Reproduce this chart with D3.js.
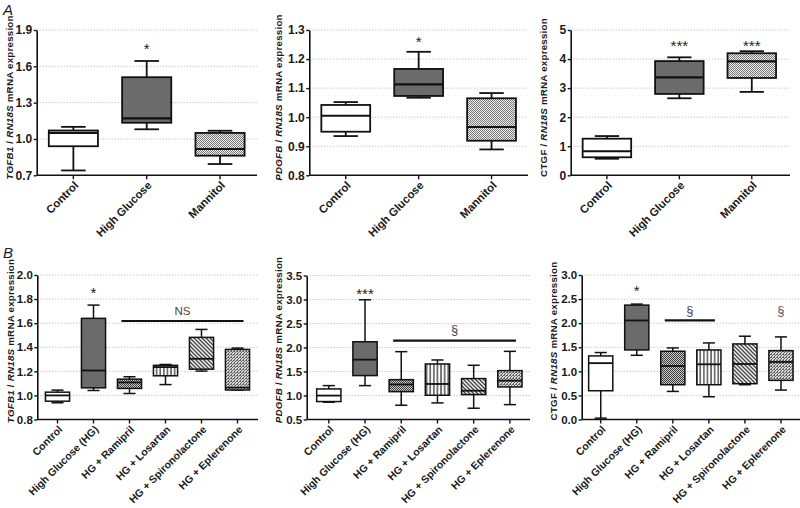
<!DOCTYPE html>
<html><head><meta charset="utf-8">
<script src="https://cdn.jsdelivr.net/npm/d3@7"></script>
<style>
body{margin:0;background:#fff}
text{font-family:Arial,"Liberation Sans",sans-serif}
</style>
</head><body>
<svg id="c" width="800" height="508"></svg>
<script>
// ---------- DATA ----------
const catsA = ["Control", "High Glucose", "Mannitol"];
const catsB = ["Control", "High Glucose (HG)", "HG + Ramipril", "HG + Losartan", "HG + Spironolactone", "HG + Eplerenone"];

// each entry: [min, q1, median, q3, max]
const tgfb1A = [[0.74, 0.94, 1.05, 1.07, 1.10], [1.08, 1.134, 1.17, 1.51, 1.644], [0.793, 0.862, 0.917, 1.05, 1.068]];
const pdgfbA = [[0.935, 0.95, 1.005, 1.042, 1.052], [1.067, 1.073, 1.113, 1.166, 1.225], [0.889, 0.919, 0.966, 1.065, 1.083]];
const ctgfA  = [[0.57, 0.62, 0.83, 1.26, 1.35], [2.65, 2.80, 3.37, 3.93, 4.06], [2.87, 3.35, 3.92, 4.20, 4.27]];

const tgfb1B = [[0.939, 0.952, 1.0, 1.027, 1.044], [1.041, 1.063, 1.207, 1.64, 1.75], [1.016, 1.058, 1.108, 1.135, 1.155],
                [1.09, 1.163, 1.235, 1.25, 1.257], [1.202, 1.218, 1.304, 1.482, 1.548], [1.045, 1.045, 1.065, 1.382, 1.393]];
const pdgfbB = [[0.86, 0.874, 0.998, 1.137, 1.206], [1.206, 1.415, 1.747, 2.12, 2.994], [0.797, 1.08, 1.23, 1.33, 1.913],
                [0.846, 1.005, 1.24, 1.657, 1.74], [0.735, 1.019, 1.10, 1.352, 1.63], [0.81, 1.178, 1.31, 1.518, 1.92]];
const ctgfB  = [[0.028, 0.597, 1.17, 1.32, 1.39], [1.333, 1.444, 2.056, 2.375, 2.396], [0.583, 0.722, 1.111, 1.417, 1.486],
                [0.472, 0.722, 1.146, 1.444, 1.59], [0.722, 0.743, 1.153, 1.569, 1.729], [0.611, 0.8125, 1.194, 1.43, 1.715]];

const ticksTgfb1A = [0.7, 1.0, 1.3, 1.6, 1.9];
const ticksPdgfbA = [0.8, 0.9, 1.0, 1.1, 1.2, 1.3];
const ticksCtgfA  = [0, 1, 2, 3, 4, 5];
const ticksTgfb1B = [0.8, 1.0, 1.2, 1.4, 1.6, 1.8, 2.0];
const ticksPdgfbB = [0.5, 1.0, 1.5, 2.0, 2.5, 3.0, 3.5];
const ticksCtgfB  = [0.0, 0.5, 1.0, 1.5, 2.0, 2.5, 3.0];

// significance marks: category, text, value
const marksTgfb1A = [["High Glucose", "*", 1.79]];
const marksPdgfbA = [["High Glucose", "*", 1.277]];
const marksCtgfA  = [["High Glucose", "***", 4.63], ["Mannitol", "***", 4.63]];
const marksTgfb1B = [["High Glucose (HG)", "*", 1.895]];
const marksPdgfbB = [["High Glucose (HG)", "***", 3.22]];
const marksCtgfB  = [["High Glucose (HG)", "*", 2.78], ["HG + Eplerenone", "§", 2.27]];
// comparison bars: from category, to category, bar value, label, label value
const barsTgfb1B = [["HG + Ramipril", "HG + Eplerenone", 1.618, "NS", 1.70]];
const barsPdgfbB = [["HG + Ramipril", "HG + Eplerenone", 2.142, "§", 2.37]];
const barsCtgfB  = [["HG + Ramipril", "HG + Losartan", 2.056, "§", 2.27]];

// ---------- DRAW ----------
const svg = d3.select("#c");
const defs = svg.append("defs");

function pat(id, w, h, bg, draw) {
  const p = defs.append("pattern").attr("id", id).attr("patternUnits", "userSpaceOnUse").attr("width", w).attr("height", h);
  p.append("rect").attr("width", w).attr("height", h).attr("fill", bg);
  draw(p);
}
function checker(p, c) {
  p.append("rect").attr("width", 1).attr("height", 1).attr("fill", c);
  p.append("rect").attr("x", 1).attr("y", 1).attr("width", 1).attr("height", 1).attr("fill", c);
}
pat("pMann", 2, 2, "#ececec", p => checker(p, "#7a7a7a"));
pat("pRam", 2, 2, "#c8c8c8", p => checker(p, "#3e3e3e"));
pat("pLos", 3.6, 4, "#ffffff", p => { p.append("rect").attr("x", 1.2).attr("width", 1.3).attr("height", 4).attr("fill", "#3a3a3a"); });
pat("pSpi", 4, 4, "#f0f0f0", p => { p.append("path").attr("d", "M-1,-1L5,5M-1,3L1,5M3,-1L5,1").attr("stroke", "#444").attr("stroke-width", 1.3); });
pat("pEpl", 3, 3, "#d6d6d6", p => {
  p.append("path").attr("d", "M0,3L3,0M-1,1L1,-1M2,4L4,2").attr("stroke", "#555").attr("stroke-width", 0.9);
  p.append("rect").attr("x", 0).attr("y", 0).attr("width", 1).attr("height", 1).attr("fill", "#666");
});

const fillsA = ["#ffffff", "#6b6b6b", "url(#pMann)"];
const fillsB = ["#ffffff", "#6b6b6b", "url(#pRam)", "url(#pLos)", "url(#pSpi)", "url(#pEpl)"];

function titleText(sel, gene, geneItalic) {
  sel.append("tspan").attr("font-style", geneItalic ? "italic" : "normal").text(gene);
  sel.append("tspan").text(" / ");
  sel.append("tspan").attr("font-style", "italic").text("RN18S");
  sel.append("tspan").text(" mRNA expression");
}

function panel(cfg) {
  const y = d3.scaleLinear().domain([cfg.ticks[0], cfg.ticks[cfg.ticks.length - 1]]).range([cfg.yBot, cfg.yTop]);
  const x = d3.scaleBand().domain(cfg.cats).range([cfg.x0, cfg.x1]);
  const g = svg.append("g");
  const cx = c => x(c) + x.bandwidth() / 2;
  const bw = x.bandwidth() * 0.67;

  g.selectAll(".grid").data(cfg.ticks.slice(1)).join("line")
    .attr("x1", cfg.axisX).attr("x2", cfg.axisEnd)
    .attr("y1", d => y(d)).attr("y2", d => y(d))
    .attr("stroke", "#b0b0b0").attr("stroke-width", 1).attr("stroke-dasharray", "1,2");

  const rows = cfg.cats.map((c, i) => ({ c, v: cfg.data[i], f: cfg.fills[i] }));
  const bg = g.selectAll(".box").data(rows).join("g");
  bg.append("line").attr("x1", d => cx(d.c)).attr("x2", d => cx(d.c))
    .attr("y1", d => y(d.v[0])).attr("y2", d => y(d.v[4])).attr("stroke", "#111").attr("stroke-width", cfg.sw);
  bg.append("line").attr("x1", d => cx(d.c) - bw / 4).attr("x2", d => cx(d.c) + bw / 4)
    .attr("y1", d => y(d.v[4])).attr("y2", d => y(d.v[4])).attr("stroke", "#111").attr("stroke-width", cfg.sw);
  bg.append("line").attr("x1", d => cx(d.c) - bw / 4).attr("x2", d => cx(d.c) + bw / 4)
    .attr("y1", d => y(d.v[0])).attr("y2", d => y(d.v[0])).attr("stroke", "#111").attr("stroke-width", cfg.sw);
  bg.append("rect").attr("x", d => cx(d.c) - bw / 2).attr("width", bw)
    .attr("y", d => y(d.v[3])).attr("height", d => y(d.v[1]) - y(d.v[3]))
    .attr("fill", d => d.f).attr("stroke", "#111").attr("stroke-width", cfg.sw);
  bg.append("line").attr("x1", d => cx(d.c) - bw / 2).attr("x2", d => cx(d.c) + bw / 2)
    .attr("y1", d => y(d.v[2])).attr("y2", d => y(d.v[2])).attr("stroke", "#111").attr("stroke-width", cfg.sw + 0.3);

  const ya = g.append("g").attr("transform", `translate(${cfg.axisX},0)`)
    .call(d3.axisLeft(y).tickValues(cfg.ticks).tickFormat(cfg.fmt).tickSize(3).tickSizeOuter(0).tickPadding(1.5));
  ya.select(".domain").attr("stroke", "#111").attr("stroke-width", 1.6);
  ya.selectAll(".tick line").attr("stroke", "#111").attr("stroke-width", 1.4);
  ya.selectAll(".tick text").attr("font-size", cfg.tickFs).attr("font-weight", "bold").attr("fill", "#1a1a1a");

  const xa = g.append("g").attr("transform", `translate(0,${cfg.yBot})`)
    .call(d3.axisBottom(x).tickSize(4).tickSizeOuter(0).tickPadding(5));
  xa.select(".domain").remove();
  xa.selectAll(".tick line").attr("stroke", "#111").attr("stroke-width", 1.4);
  xa.selectAll(".tick text").attr("font-size", cfg.labFs).attr("font-weight", "bold").attr("fill", "#1a1a1a")
    .attr("text-anchor", "end").attr("dy", "0.35em")
    .attr("transform", "translate(3,8) rotate(-45)").attr("x", 0).attr("y", 0);
  g.append("line").attr("x1", cfg.axisX).attr("x2", cfg.axisEnd).attr("y1", cfg.yBot).attr("y2", cfg.yBot)
    .attr("stroke", "#111").attr("stroke-width", 1.6);

  const t = g.append("text").attr("transform", `translate(${cfg.titleX},${cfg.titleY}) rotate(-90)`)
    .attr("text-anchor", "middle").attr("font-size", 9.8).attr("font-weight", "bold").attr("fill", "#1a1a1a")
    .attr("letter-spacing", 0.2);
  titleText(t, cfg.gene, cfg.geneItalic);

  g.selectAll(".mk").data(cfg.marks).join("text")
    .attr("x", d => cx(d[0])).attr("y", d => y(d[2]))
    .attr("dy", d => d[1] === "§" ? "0.35em" : "0.7em")
    .attr("text-anchor", "middle").attr("font-size", d => d[1] === "§" ? 13 : 15)
    .attr("fill", d => d[1] === "§" ? "#555" : "#222")
    .text(d => d[1]);

  (cfg.bars || []).forEach(b => {
    const xa1 = cx(b[0]) - bw / 3, xa2 = cx(b[1]) + bw / 4;
    g.append("line").attr("x1", xa1).attr("x2", xa2).attr("y1", y(b[2])).attr("y2", y(b[2]))
      .attr("stroke", "#111").attr("stroke-width", 2.2);
    g.append("text").attr("x", (xa1 + xa2) / 2).attr("y", y(b[4])).attr("dy", "0.35em")
      .attr("text-anchor", "middle").attr("font-size", b[3] === "NS" ? 11.5 : 13).attr("fill", "#444").text(b[3]);
  });
}

const f1 = d3.format(".1f"), f0 = d3.format("d");

panel({ cats: catsA, data: tgfb1A, ticks: ticksTgfb1A, fmt: f1, fills: fillsA, marks: marksTgfb1A,
  x0: 36.7, x1: 256.7, axisX: 36.7, axisEnd: 257, yTop: 30, yBot: 175.3, sw: 1.8, tickFs: 12, labFs: 11.3,
  gene: "TGFB1", geneItalic: true, titleX: 13, titleY: 97.5 });
panel({ cats: catsA, data: pdgfbA, ticks: ticksPdgfbA, fmt: f1, fills: fillsA, marks: marksPdgfbA,
  x0: 309.3, x1: 528, axisX: 309.3, axisEnd: 528, yTop: 30, yBot: 175.3, sw: 1.8, tickFs: 12, labFs: 11.3,
  gene: "PDGFB", geneItalic: true, titleX: 282, titleY: 97.5 });
panel({ cats: catsA, data: ctgfA, ticks: ticksCtgfA, fmt: f0, fills: fillsA, marks: marksCtgfA,
  x0: 570.7, x1: 788, axisX: 570.7, axisEnd: 790, yTop: 30, yBot: 175.3, sw: 1.8, tickFs: 12, labFs: 11.3,
  gene: "CTGF", geneItalic: false, titleX: 547, titleY: 97.5 });

panel({ cats: catsB, data: tgfb1B, ticks: ticksTgfb1B, fmt: f1, fills: fillsB, marks: marksTgfb1B, bars: barsTgfb1B,
  x0: 39.5, x1: 255.5, axisX: 37.3, axisEnd: 258, yTop: 275, yBot: 419.5, sw: 1.5, tickFs: 11.5, labFs: 10.5,
  gene: "TGFB1", geneItalic: true, titleX: 14, titleY: 341 });
panel({ cats: catsB, data: pdgfbB, ticks: ticksPdgfbB, fmt: f1, fills: fillsB, marks: marksPdgfbB, bars: barsPdgfbB,
  x0: 310.7, x1: 528, axisX: 306.7, axisEnd: 530, yTop: 275.5, yBot: 419.5, sw: 1.5, tickFs: 11.5, labFs: 10.5,
  gene: "PDGFB", geneItalic: true, titleX: 282, titleY: 340 });
panel({ cats: catsB, data: ctgfB, ticks: ticksCtgfB, fmt: f1, fills: fillsB, marks: marksCtgfB, bars: barsCtgfB,
  x0: 582.7, x1: 799, axisX: 581.7, axisEnd: 800, yTop: 275, yBot: 419.5, sw: 1.5, tickFs: 11.5, labFs: 10.5,
  gene: "CTGF", geneItalic: false, titleX: 557, titleY: 341 });

svg.append("text").attr("x", 3).attr("y", 15).attr("font-size", 15).attr("font-style", "italic").attr("fill", "#222").text("A");
svg.append("text").attr("x", 3).attr("y", 258).attr("font-size", 15).attr("font-style", "italic").attr("fill", "#222").text("B");
</script>
</body></html>
